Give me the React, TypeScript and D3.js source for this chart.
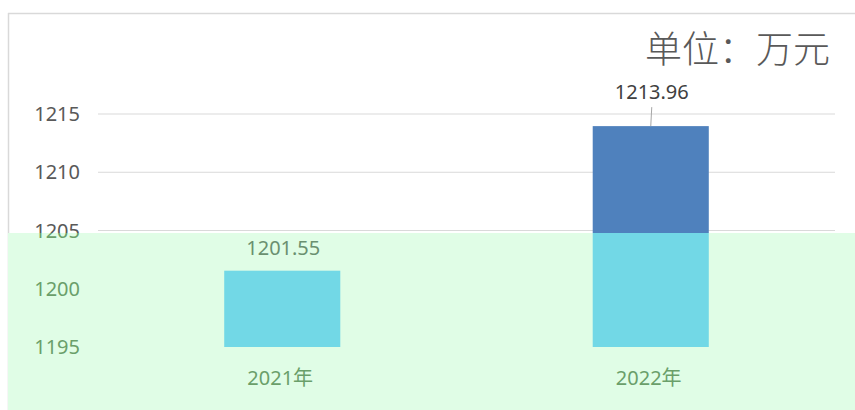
import React from 'react';
import * as d3 from 'd3';

const categories = ['2021年', '2022年'];
const values = [1201.55, 1213.96];
const valueLabels = ['1201.55', '1213.96'];
const yTicks = [1195, 1200, 1205, 1210, 1215];
const unitLabel = '单位：万元';

const W = 855;
const H = 410;
const margin = { top: 13, left: 98, right: 20, bottom: 63 };

const normal = { bar: '#4f81bd', text: '#595959', label: '#404040', grid: '#d9d9d9', leader: '#a6a6a6', border: '#d9d9d9' };
const washed = { bar: '#72d8e6', text: '#6a9f6a', label: '#6a9070', grid: 'none', leader: '#8fbf95', border: 'none' };

type Palette = typeof normal;

const x = d3.scaleBand<string>()
  .domain(categories)
  .range([margin.left, W - margin.right]);

const y = d3.scaleLinear()
  .domain([1195, 1215])
  .range([347, 114]);

const barW = x.bandwidth() * 0.315;

function Chart({ p }: { p: Palette }) {
  return (
    <g>
      <line x1={8.5} x2={8.5} y1={13} y2={H} stroke={p.border} strokeWidth={1.5} />
      <line x1={8} x2={W} y1={13.5} y2={13.5} stroke={p.border} strokeWidth={1.5} />
      {yTicks.map(t => (
        <g key={t}>
          <line x1={margin.left} x2={W - margin.right} y1={y(t)} y2={y(t)} stroke={p.grid} strokeWidth={1.2} />
          <text x={80} y={y(t)} dy="0.35em" textAnchor="end" fontSize={20} fill={p.text}
            fontFamily="'Noto Sans', sans-serif">{t}</text>
        </g>
      ))}
      {categories.map((c, i) => {
        const cx = (x(c) ?? 0) + x.bandwidth() / 2;
        const top = y(values[i]);
        return (
          <g key={c}>
            <rect x={cx - barW / 2} y={top} width={barW} height={y(1195) - top} fill={p.bar} />
            <text x={cx - 2} y={378} dy="0.35em" textAnchor="middle" fontSize={20} fill={p.text}
              fontFamily="'Noto Sans', 'Noto Sans CJK SC', sans-serif">{c}</text>
            <text x={cx + 1} y={top - (i === 1 ? 34 : 23)} dy="0.35em" textAnchor="middle" fontSize={20}
              fill={p.label} fontFamily="'Noto Sans', sans-serif">{valueLabels[i]}</text>
            {i === 1 && (
              <line x1={cx + 1} x2={cx} y1={top - 19} y2={top} stroke={p.leader} strokeWidth={1} />
            )}
          </g>
        );
      })}
      <text x={830} y={50} dy="0.35em" textAnchor="end" fontSize={37} fill={p.text}
        fontFamily="'Noto Sans CJK SC', sans-serif" fontWeight={300}>{unitLabel}</text>
    </g>
  );
}

export default function App() {
  return (
    <svg width={W} height={H} style={{ position: 'absolute', left: 0, top: 0, background: '#fff' }}>
      <defs>
        <clipPath id="wash">
          <rect x={8} y={233} width={W - 8} height={H - 233} />
        </clipPath>
      </defs>
      <rect width={W} height={H} fill="#fff" />
      <Chart p={normal} />
      <g clipPath="url(#wash)">
        <rect x={8} y={233} width={W - 8} height={H - 233} fill="#e0fde6" />
        <Chart p={washed} />
      </g>
    </svg>
  );
}
